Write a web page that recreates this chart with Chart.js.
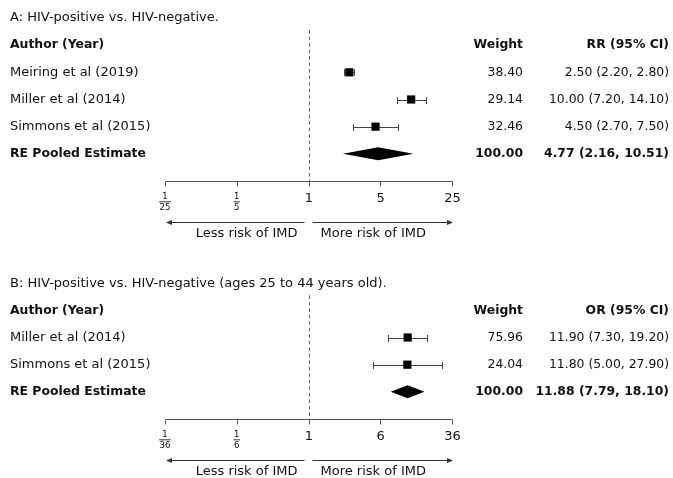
<!DOCTYPE html>
<html><head><meta charset="utf-8">
<script src="https://cdn.jsdelivr.net/npm/chart.js@4.4.0/dist/chart.umd.min.js"></script>
<style>
html,body{margin:0;padding:0;background:#fff;}
#wrap{position:relative;width:673px;height:478px;overflow:hidden;background:#fff;}
canvas{position:absolute;left:0;}
</style></head><body>
<div id="wrap">
<canvas id="cA" width="673" height="240" style="top:0px"></canvas>
<canvas id="cB" width="673" height="240" style="top:238px"></canvas>
</div>
<script>
// ---------- Panel A data ----------
const titleA = "A: HIV-positive vs. HIV-negative.";
const measureA = "RR (95% CI)";
const studiesA = ["Meiring et al (2019)", "Miller et al (2014)", "Simmons et al (2015)"];
const estA = [2.50, 10.00, 4.50];
const lowA = [2.20, 7.20, 2.70];
const highA = [2.80, 14.10, 7.50];
const weightA = [38.40, 29.14, 32.46];
const pooledA = [4.77, 2.16, 10.51];   // estimate, lower, upper
const pooledWeightA = 100.00;
const tickValsA = [1/25, 1/5, 1, 5, 25];
const tickLabelsA = ["1/25", "1/5", "1", "5", "25"];

// ---------- Panel B data ----------
const titleB = "B: HIV-positive vs. HIV-negative (ages 25 to 44 years old).";
const measureB = "OR (95% CI)";
const studiesB = ["Miller et al (2014)", "Simmons et al (2015)"];
const estB = [11.90, 11.80];
const lowB = [7.30, 5.00];
const highB = [19.20, 27.90];
const weightB = [75.96, 24.04];
const pooledB = [11.88, 7.79, 18.10];
const pooledWeightB = 100.00;
const tickValsB = [1/36, 1/6, 1, 6, 36];
const tickLabelsB = ["1/36", "1/6", "1", "6", "36"];

// shared labels
const authorHeader = "Author (Year)";
const weightHeader = "Weight";
const pooledLabel = "RE Pooled Estimate";
const lessLabel = "Less risk of IMD";
const moreLabel = "More risk of IMD";

const FONT = "'DejaVu Sans', sans-serif";
const TXT = '#111';

function fmt(v){ return v.toFixed(2); }

function makePanel(canvasId, p){
  const lastRow = 5;
  const pooledRow = lastRow;
  const firstRow = pooledRow - p.studies.length;
  const headerRow = firstRow - 1;
  const titleRow = headerRow - 1;

  const plugin = {
    id: 'forest_' + canvasId,
    beforeDatasetsDraw(chart){
      const {ctx, chartArea: ca, scales: {x, y}} = chart;
      ctx.save();
      // null line
      const x1 = Math.round(x.getPixelForValue(1)) + 0.5;
      ctx.strokeStyle = '#666'; ctx.lineWidth = 1; ctx.setLineDash([3.5, 3]);
      ctx.beginPath();
      ctx.moveTo(x1, y.getPixelForValue(headerRow) - 15);
      ctx.lineTo(x1, ca.bottom);
      ctx.stroke();
      ctx.setLineDash([]);
      // confidence intervals
      ctx.strokeStyle = '#444';
      p.low.forEach((lo, i) => {
        const yy = Math.round(y.getPixelForValue(firstRow + i)) + 0.5;
        const a = Math.round(x.getPixelForValue(lo)) + 0.5;
        const b = Math.round(x.getPixelForValue(p.high[i])) + 0.5;
        ctx.beginPath();
        ctx.moveTo(a, yy); ctx.lineTo(b, yy);
        ctx.moveTo(a, yy - 3.5); ctx.lineTo(a, yy + 3.5);
        ctx.moveTo(b, yy - 3.5); ctx.lineTo(b, yy + 3.5);
        ctx.stroke();
      });
      ctx.restore();
    },
    afterDatasetsDraw(chart){
      const {ctx, chartArea: ca, scales: {x, y}} = chart;
      ctx.save();
      // pooled diamond
      const yp = y.getPixelForValue(pooledRow);
      const xe = x.getPixelForValue(p.pooled[0]);
      const xl = x.getPixelForValue(p.pooled[1]);
      const xh = x.getPixelForValue(p.pooled[2]);
      ctx.fillStyle = '#000';
      ctx.beginPath();
      ctx.moveTo(xl, yp); ctx.lineTo(xe, yp - 6.5); ctx.lineTo(xh, yp); ctx.lineTo(xe, yp + 6.5);
      ctx.closePath(); ctx.fill();

      // axis
      const yb = Math.round(ca.bottom) + 0.5;
      const xmin = x.getPixelForValue(p.tickVals[0]);
      const xmax = x.getPixelForValue(p.tickVals[p.tickVals.length - 1]);
      ctx.strokeStyle = '#555'; ctx.lineWidth = 1;
      ctx.beginPath();
      ctx.moveTo(Math.round(xmin) + 0.5, yb); ctx.lineTo(Math.round(xmax) + 0.5, yb);
      p.tickVals.forEach(v => {
        const tx = Math.round(x.getPixelForValue(v)) + 0.5;
        ctx.moveTo(tx, yb); ctx.lineTo(tx, yb + 5);
      });
      ctx.stroke();

      // tick labels
      ctx.fillStyle = TXT; ctx.textBaseline = 'middle'; ctx.textAlign = 'center';
      p.tickLabels.forEach((lab, i) => {
        const tx = x.getPixelForValue(p.tickVals[i]);
        if (lab.indexOf('/') >= 0){
          const [num, den] = lab.split('/');
          ctx.font = '8.5px ' + FONT;
          ctx.fillText(num, tx, ca.bottom + 15.5);
          ctx.fillText(den, tx, ca.bottom + 26.5);
          const w = Math.max(ctx.measureText(num).width, ctx.measureText(den).width) + 1;
          ctx.strokeStyle = '#222'; ctx.lineWidth = 0.9;
          ctx.beginPath();
          ctx.moveTo(tx - w / 2, ca.bottom + 20.8); ctx.lineTo(tx + w / 2, ca.bottom + 20.8);
          ctx.stroke();
        } else {
          ctx.font = '13px ' + FONT;
          ctx.fillText(lab, tx + 0.5, ca.bottom + 17.5);
        }
      });

      // direction arrows
      const xc = x.getPixelForValue(1);
      const ya = Math.round(ca.bottom + 41) + 0.5;
      ctx.strokeStyle = '#333'; ctx.fillStyle = '#333'; ctx.lineWidth = 1;
      ctx.beginPath();
      ctx.moveTo(xmin + 6, ya); ctx.lineTo(xc - 4, ya);
      ctx.moveTo(xc + 4, ya); ctx.lineTo(xmax - 4, ya);
      ctx.stroke();
      ctx.beginPath();
      ctx.moveTo(xmin + 1, ya); ctx.lineTo(xmin + 7, ya - 2.5); ctx.lineTo(xmin + 7, ya + 2.5); ctx.closePath();
      ctx.moveTo(xmax + 1, ya); ctx.lineTo(xmax - 5, ya - 2.5); ctx.lineTo(xmax - 5, ya + 2.5); ctx.closePath();
      ctx.fill();
      ctx.fillStyle = TXT;
      ctx.font = '13px ' + FONT;
      ctx.textAlign = 'right';
      ctx.fillText(lessLabel, xc - 11, ca.bottom + 52.5);
      ctx.textAlign = 'left';
      ctx.fillText(moreLabel, xc + 12, ca.bottom + 52.5);

      // text columns
      const xLeft = 10, xWeight = 523, xCI = 669;
      ctx.fillStyle = TXT;
      ctx.textAlign = 'left';
      ctx.font = '13px ' + FONT;
      ctx.fillText(p.title, xLeft, y.getPixelForValue(titleRow));
      const yh = y.getPixelForValue(headerRow);
      ctx.font = 'bold 12.4px ' + FONT;
      ctx.fillText(authorHeader, xLeft, yh);
      ctx.textAlign = 'right';
      ctx.fillText(weightHeader, xWeight, yh);
      ctx.fillText(p.measure, xCI, yh);
      p.studies.forEach((s, i) => {
        const yy = y.getPixelForValue(firstRow + i);
        ctx.textAlign = 'left'; ctx.font = '13px ' + FONT;
        ctx.fillText(s, xLeft, yy);
        ctx.textAlign = 'right'; ctx.font = '12.4px ' + FONT;
        ctx.fillText(fmt(p.weight[i]), xWeight, yy);
        ctx.fillText(fmt(p.est[i]) + ' (' + fmt(p.low[i]) + ', ' + fmt(p.high[i]) + ')', xCI, yy);
      });
      ctx.font = 'bold 12.4px ' + FONT;
      ctx.textAlign = 'left';
      ctx.fillText(pooledLabel, xLeft, yp);
      ctx.textAlign = 'right';
      ctx.fillText(fmt(p.pooledWeight), xWeight, yp);
      ctx.fillText(fmt(p.pooled[0]) + ' (' + fmt(p.pooled[1]) + ', ' + fmt(p.pooled[2]) + ')', xCI, yp);
      ctx.restore();
    }
  };

  return new Chart(document.getElementById(canvasId), {
    type: 'scatter',
    data: {
      datasets: [{
        data: p.est.map((v, i) => ({x: v, y: firstRow + i})),
        pointStyle: 'rect',
        pointRadius: 5.8,
        pointHoverRadius: 5.8,
        backgroundColor: '#000',
        borderColor: '#000',
        borderWidth: 0
      }]
    },
    options: {
      responsive: false,
      animation: false,
      devicePixelRatio: 1,
      events: [],
      layout: {padding: {left: 165, right: 221, top: 18, bottom: 59}},
      scales: {
        x: {type: 'logarithmic', min: p.tickVals[0], max: p.tickVals[p.tickVals.length - 1], display: false},
        y: {type: 'linear', min: 0, max: 6, reverse: true, display: false}
      },
      plugins: {legend: {display: false}, tooltip: {enabled: false}}
    },
    plugins: [plugin]
  });
}

makePanel('cA', {title: titleA, measure: measureA, studies: studiesA, est: estA, low: lowA, high: highA,
  weight: weightA, pooled: pooledA, pooledWeight: pooledWeightA, tickVals: tickValsA, tickLabels: tickLabelsA});
makePanel('cB', {title: titleB, measure: measureB, studies: studiesB, est: estB, low: lowB, high: highB,
  weight: weightB, pooled: pooledB, pooledWeight: pooledWeightB, tickVals: tickValsB, tickLabels: tickLabelsB});
</script>
</body></html>
